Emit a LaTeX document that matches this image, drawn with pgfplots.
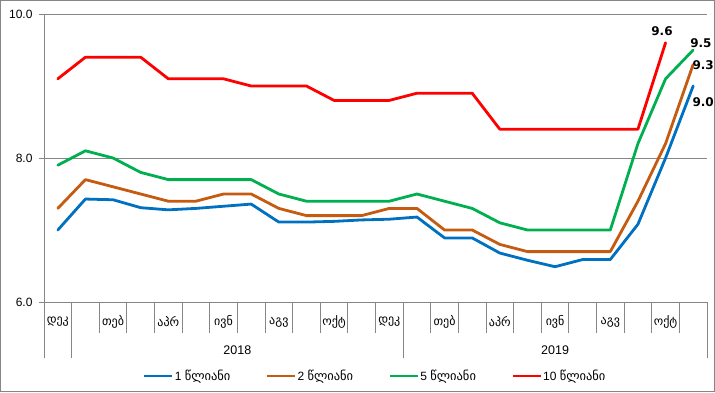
\documentclass[border=0pt]{standalone}
\usepackage{fontspec}
\setmainfont{Liberation Sans}
\newfontfamily\geo{DejaVu Sans}
\usepackage{pgfplots}
\usepackage{pgfplotstable}
\pgfplotsset{compat=1.18}
\definecolor{cA}{RGB}{0,112,192}
\definecolor{cB}{RGB}{197,90,17}
\definecolor{cC}{RGB}{0,176,80}
\definecolor{cD}{RGB}{255,0,0}
\definecolor{axgray}{RGB}{134,134,134}
\pgfplotstableread{
x blue brown green red
0 7.00 7.3 7.9 9.1
1 7.43 7.7 8.1 9.4
2 7.42 7.6 8.0 9.4
3 7.31 7.5 7.8 9.4
4 7.28 7.4 7.7 9.1
5 7.30 7.4 7.7 9.1
6 7.33 7.5 7.7 9.1
7 7.36 7.5 7.7 9.0
8 7.11 7.3 7.5 9.0
9 7.11 7.2 7.4 9.0
10 7.12 7.2 7.4 8.8
11 7.14 7.2 7.4 8.8
12 7.15 7.3 7.4 8.8
13 7.18 7.3 7.5 8.9
14 6.89 7.0 7.4 8.9
15 6.89 7.0 7.3 8.9
16 6.68 6.8 7.1 8.4
17 6.58 6.7 7.0 8.4
18 6.49 6.7 7.0 8.4
19 6.59 6.7 7.0 8.4
20 6.59 6.7 7.0 8.4
21 7.08 7.4 8.2 8.4
22 8.00 8.2 9.1 9.6
23 9.00 9.3 9.5 nan
}\data
\begin{document}
\begin{tikzpicture}
\useasboundingbox (0,0) rectangle (715pt,392pt);
\draw[axgray, line width=0.8pt] (0.5pt,0.5pt) rectangle (714.5pt,391.5pt);
\begin{axis}[
  at={(44pt,90pt)}, anchor=south west,
  scale only axis, width=663pt, height=288pt,
  xmin=-0.5, xmax=23.5, ymin=6, ymax=10,
  clip=false,
  axis x line*=bottom, axis y line*=left,
  axis line style={axgray, line width=0.8pt},
  major tick length=0pt,
  ytick={6,8,10}, ymajorgrids,
  grid style={axgray, line width=0.8pt},
  yticklabel style={font=\fontsize{12}{14}\selectfont, anchor=east, xshift=-8pt,
    /pgf/number format/.cd, fixed, fixed zerofill, precision=1, assume math mode=true},
  xtick={0,2,4,6,8,10,12,14,16,18,20,22},
  xticklabels={დეკ,თებ,აპრ,ივნ,აგვ,ოქტ,დეკ,თებ,აპრ,ივნ,აგვ,ოქტ},
  xticklabel style={font=\geo\fontsize{12}{14}\selectfont, anchor=center, yshift=-20pt},
  legend columns=4,
  legend style={at={(0.149,-0.257)}, anchor=west, draw=none, fill=none,
    inner sep=0pt, font=\fontsize{12}{14}\selectfont,
    nodes={inner xsep=1pt, inner ysep=0pt}},
  legend cell align=left,
  legend image code/.code={\draw[#1, line cap=butt] (0pt,0pt) -- (28pt,0pt);},
  every axis plot/.append style={line width=2.8pt, line join=round, line cap=round},
]
\addplot[cA] table[x=x, y=blue] {\data};
\addlegendentry{\makebox[90pt][l]{1 {\geo\fontsize{12.5}{14}\selectfont წლიანი}}}
\addplot[cB] table[x=x, y=brown] {\data};
\addlegendentry{\makebox[90pt][l]{2 {\geo\fontsize{12.5}{14}\selectfont წლიანი}}}
\addplot[cC] table[x=x, y=green] {\data};
\addlegendentry{\makebox[90pt][l]{5 {\geo\fontsize{12.5}{14}\selectfont წლიანი}}}
\addplot[cD] table[x=x, y=red] {\data};
\addlegendentry{\makebox[90pt][l]{10 {\geo\fontsize{12.5}{14}\selectfont წლიანი}}}
\pgfplotsinvokeforeach{-0.5,0.5,1.5,2.5,3.5,4.5,5.5,6.5,7.5,8.5,9.5,10.5,11.5,13.5,14.5,15.5,16.5,17.5,18.5,19.5,20.5,21.5,22.5}{
  \draw[axgray, line width=0.8pt] (axis cs:#1,6) -- ++(0pt,-31pt);
}
\pgfplotsinvokeforeach{-0.5,0.5,12.5,23.5}{
  \draw[axgray, line width=0.8pt] (axis cs:#1,6) -- ++(0pt,-56pt);
}
\pgfplotsinvokeforeach{6,8,10}{
  \draw[axgray, line width=0.8pt] (axis cs:-0.5,#1) -- ++(-5pt,0pt);
}
\node[font=\fontsize{12.5}{14}\selectfont] at (axis cs:6.5,6) [yshift=-48pt] {2018};
\node[font=\fontsize{12.5}{14}\selectfont] at (axis cs:18,6) [yshift=-48pt] {2019};
\node[font=\geo\bfseries\fontsize{12}{14}\selectfont] at (axis cs:21.87,9.757) {9.6};
\node[font=\geo\bfseries\fontsize{12}{14}\selectfont] at (axis cs:23.28,9.597) {9.5};
\node[font=\geo\bfseries\fontsize{12}{14}\selectfont] at (axis cs:23.36,9.292) {9.3};
\node[font=\geo\bfseries\fontsize{12}{14}\selectfont] at (axis cs:23.36,8.778) {9.0};
\end{axis}
\end{tikzpicture}
\end{document}
